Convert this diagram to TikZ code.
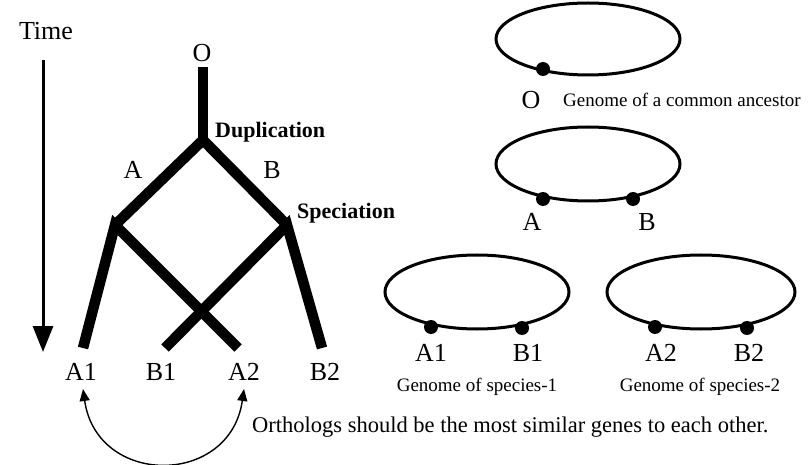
\documentclass[tikz,border=0pt]{standalone}
\usepackage{fontspec}
\setmainfont{Liberation Serif}
\usetikzlibrary{arrows.meta,shapes.geometric}
\begin{document}
\begin{tikzpicture}[x=1pt,y=-1pt,
  branch/.style={line width=10.5pt,line join=miter,line cap=butt},
  lbl/.style={inner sep=0pt,font=\fontsize{26}{26}\selectfont},
  evt/.style={inner sep=0pt,anchor=west,font=\fontsize{22}{22}\selectfont\bfseries},
  small/.style={inner sep=0pt,font=\fontsize{19}{19}\selectfont},
  genome/.style={draw,ellipse,line width=3pt,inner sep=0pt,minimum width=184pt,minimum height=74pt},
  gdot/.style={circle,fill=black,inner sep=0pt,minimum size=14pt}]
\useasboundingbox (0,0) rectangle (809,465);
% time arrow
\node[lbl] (time) at (46,31) {Time};
\coordinate (ts) at (43,60);
\coordinate (te) at (43,352);
\draw[line width=3pt,-{Triangle[length=26pt,width=20pt]}] (ts) -- (te);
% tree
\node[lbl] (o) at (202,53) {O};
\coordinate (otop) at (203,67);
\coordinate (dup) at (203,140);
\coordinate (spl) at (115,225);
\coordinate (spr) at (287,225);
\coordinate (ea1) at (83,348);
\coordinate (eb1) at (165,348);
\coordinate (ea2) at (238,348);
\coordinate (eb2) at (322,348);
\draw[branch] (otop) -- (dup);
\draw[branch] (spl) -- (dup) -- (spr);
\draw[branch] (ea1) -- (spl) -- (ea2);
\draw[branch] (eb1) -- (spr) -- (eb2);
\node[evt] (dupl) at (215,132) {Duplication};
\node[evt] (spec) at (297,213) {Speciation};
\node[lbl] (la) at (133,170) {A};
\node[lbl] (lb) at (272,170) {B};
\node[lbl] (a1) at (81,372) {A1};
\node[lbl] (b1) at (161,372) {B1};
\node[lbl] (a2) at (244,372) {A2};
\node[lbl] (b2) at (325,372) {B2};
% ortholog arrow
\coordinate (ca) at (83,389);
\coordinate (cb) at (244,389);
\draw[line width=1.4pt,{Triangle[length=12pt,width=10pt]}-{Triangle[length=12pt,width=10pt]}]
  (ca) .. controls +(14,98) and +(-14,98) .. (cb);
\node[inner sep=0pt,anchor=west,font=\fontsize{22.5}{22.5}\selectfont] (orth) at (252,427)
  {Orthologs should be the most similar genes to each other.};
% genomes
\node[genome,minimum height=72pt] (g0) at (588,39) {};
\node[gdot] (d0) at (543,69) {};
\node[lbl] (go) at (531,100) {O};
\node[small,anchor=west] (gt0) at (563,100) {Genome of a common ancestor};
\node[genome] (g1) at (588,164) {};
\node[gdot] (da) at (543,199) {};
\node[gdot] (db) at (633,199) {};
\node[lbl] (ga) at (532,222) {A};
\node[lbl] (gb) at (647,222) {B};
\node[genome] (g2) at (477,292) {};
\node[gdot] (da1) at (431,327) {};
\node[gdot] (db1) at (522,328) {};
\node[lbl] (ga1) at (431,353) {A1};
\node[lbl] (gb1) at (528,353) {B1};
\node[small] (gt1) at (477,387) {Genome of species-1};
\node[genome,minimum width=188pt] (g3) at (701,292) {};
\node[gdot] (da2) at (655,327) {};
\node[gdot] (db2) at (747,328) {};
\node[lbl] (ga2) at (661,353) {A2};
\node[lbl] (gb2) at (749,353) {B2};
\node[small] (gt2) at (700,387) {Genome of species-2};
\end{tikzpicture}
\end{document}
